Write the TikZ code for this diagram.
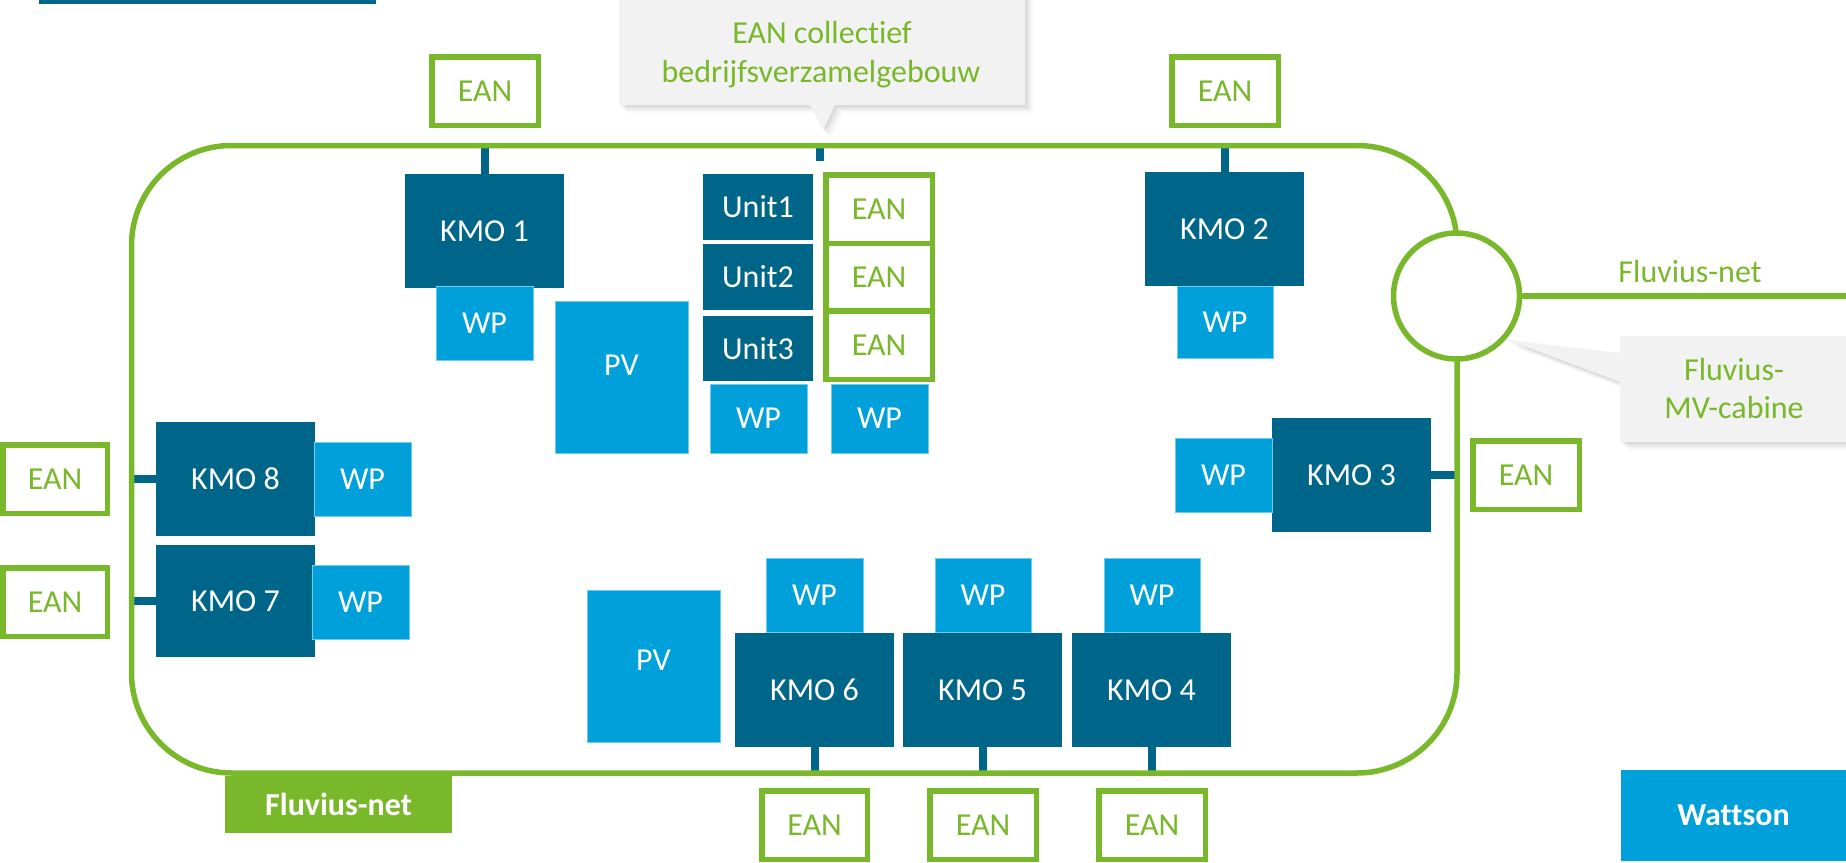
\documentclass[tikz,border=0pt]{standalone}
\usepackage{fontspec}
\setmainfont{Carlito}[Ligatures=NoCommon]
\definecolor{dkblue}{HTML}{006689}
\definecolor{ltblue}{HTML}{00A1DA}
\definecolor{fgreen}{HTML}{78B82A}
\definecolor{callgray}{HTML}{F2F2F2}
\pgfdeclarelayer{bg}
\pgfsetlayers{bg,main}
\tikzset{
  basebox/.style={inner sep=0pt, outer sep=0pt, font=\fontsize{16}{19.5}\selectfont},
  kmo/.style={basebox, fill=dkblue, text=white},
  wp/.style={basebox, fill=ltblue, text=white, draw=ltblue!55!white, line width=0.4pt},
  pvA/.style={wp, text depth=12pt},
  pvB/.style={wp, text depth=6pt},
  ean/.style={basebox, fill=white, draw=fgreen, line width=2.75pt, text=fgreen},
  tag/.style={basebox, text=white, font=\fontsize{16}{19.5}\selectfont\bfseries},
  link/.style={draw=dkblue, line width=4pt},
  netline/.style={draw=fgreen, line width=2.75pt},
  lbl/.style={inner sep=0pt, outer sep=0pt, text=fgreen, font=\fontsize{16}{19.5}\selectfont},
}
\newcommand\RB[6]{\node[#2, minimum width={(#5-#3)*0.5pt}, minimum height={(#6-#4)*0.5pt}] (#1) at ({(#3+#5)/2},{(#4+#6)/2})}
\newcommand\EB[6]{\node[#2, minimum width={(#5-#3-5.5)*0.5pt}, minimum height={(#6-#4-5.5)*0.5pt}] (#1) at ({(#3+#5)/2},{(#4+#6)/2})}
\begin{document}
\begin{tikzpicture}[x=0.5pt,y=-0.5pt]
\clip (0,0) rectangle (1846,862);
% top-left bar
\fill[dkblue] (39,-5) rectangle (376,3.5);

% callout shadows
\foreach \o/\a in {8/0.025,6/0.035,4/0.045,2/0.055}{
  \begin{scope}[shift={(\o,\o)}]
    \fill[black,opacity=\a] (619,-20) -- (1025,-20) -- (1025,105) -- (835,105) -- (823,130) -- (810,105) -- (619,105) -- cycle;
    \fill[black,opacity=\a] (1508,340) -- (1620,353) -- (1620,336) -- (1870,336) -- (1870,442) -- (1620,442) -- (1620,382) -- cycle;
  \end{scope}
}
\fill[callgray] (619,-20) -- (1025,-20) -- (1025,105) -- (835,105) -- (823,130) -- (810,105) -- (619,105) -- cycle;
\fill[callgray] (1508,340) -- (1620,353) -- (1620,336) -- (1870,336) -- (1870,442) -- (1620,442) -- (1620,382) -- cycle;
\node[lbl, anchor=base] (ct1) at (822,43) {EAN collectief};
\node[lbl, anchor=base] (ct2) at (821,82) {bedrijfsverzamelgebouw};
\node[lbl, anchor=base] (cr1) at (1734,380) {Fluvius-};
\node[lbl, anchor=base] (cr2) at (1734,418) {MV-cabine};

% network frame
\node[netline, rounded corners=50pt, minimum width=662.75pt, minimum height=313.75pt, inner sep=0pt, outer sep=0pt] (frame) at (794.25,459.25) {};
\node[circle, draw=fgreen, line width=2.75pt, fill=white, minimum size=63pt, inner sep=0pt, outer sep=0pt] (cab) at (1456.5,296) {};
\coordinate (fnetend) at (1850,296);
\draw[netline] (cab.east) -- (cab.east -| fnetend);
\node[lbl, anchor=base] (fnettxt) at (1690,282) {Fluvius-net};

% KMO 1
\RB{k1}{kmo}{405}{174}{564}{288} {KMO 1};
\RB{wp1}{wp}{436}{286}{533}{360} {WP};
\EB{e1}{ean}{429}{54}{541}{128} {EAN};
% PV 1
\RB{pv1}{pvA}{555}{301}{688}{453} {PV};
% Units
\RB{u1}{kmo}{703}{174}{813}{240} {Unit1};
\RB{u2}{kmo}{703}{244}{813}{310} {Unit2};
\RB{u3}{kmo}{703}{316}{813}{381} {Unit3};
\EB{eu1}{ean}{823}{172}{935}{246.25} {EAN};
\EB{eu2}{ean}{823}{240.75}{935}{313.75} {EAN};
\EB{eu3}{ean}{823}{308.25}{935}{382} {EAN};
\RB{wpu}{wp}{710}{384}{807}{453} {WP};
\RB{wpe}{wp}{831}{384}{928}{453} {WP};
\coordinate (stub) at (820,161);
% KMO 2
\RB{k2}{kmo}{1145}{172}{1304}{286} {KMO 2};
\RB{wp2}{wp}{1177}{286}{1273}{358} {WP};
\EB{e2}{ean}{1169}{54}{1281}{128} {EAN};
% KMO 3
\RB{k3}{kmo}{1272}{418}{1431}{532} {KMO 3};
\RB{wp3}{wp}{1175}{438}{1272}{512} {WP};
\EB{e3}{ean}{1470}{438}{1582}{512} {EAN};
% KMO 8, 7
\RB{k8}{kmo}{156}{422}{315}{536} {KMO 8};
\RB{wp8}{wp}{314}{442}{411}{516} {WP};
\EB{e8}{ean}{0}{442}{110}{516} {EAN};
\RB{k7}{kmo}{156}{545}{315}{657} {KMO 7};
\RB{wp7}{wp}{312}{565}{409}{639} {WP};
\EB{e7}{ean}{0}{565}{110}{639} {EAN};
% PV 2
\RB{pv2}{pvB}{587}{590}{720}{742} {PV};
% KMO 6, 5, 4
\RB{k6}{kmo}{735}{633}{894}{747} {KMO 6};
\RB{wp6}{wp}{766}{558}{863}{632} {WP};
\EB{e6}{ean}{759}{788}{870}{862} {EAN};
\RB{k5}{kmo}{903}{633}{1062}{747} {KMO 5};
\RB{wp5}{wp}{935}{558}{1031}{632} {WP};
\EB{e5}{ean}{927}{788}{1039}{862} {EAN};
\RB{k4}{kmo}{1072}{633}{1231}{747} {KMO 4};
\RB{wp4}{wp}{1104}{558}{1200}{632} {WP};
\EB{e4}{ean}{1096}{788}{1208}{862} {EAN};

% legend tags
\RB{fnl}{tag, fill=fgreen}{225}{776}{452}{833} {Fluvius-net};
\RB{wat}{tag, fill=ltblue}{1621}{770}{1846}{861} {Wattson};

% connectors
\begin{pgfonlayer}{bg}
\draw[link] (k1.north) -- (k1.north |- frame.north);
\draw[link] (k2.north) -- (k2.north |- frame.north);
\draw[link] (stub) -- (stub |- frame.north);
\draw[link] (k3.east) -- (k3.east -| frame.east);
\draw[link] (k8.west) -- (k8.west -| frame.west);
\draw[link] (k7.west) -- (k7.west -| frame.west);
\draw[link] (k6.south) -- (k6.south |- frame.south);
\draw[link] (k5.south) -- (k5.south |- frame.south);
\draw[link] (k4.south) -- (k4.south |- frame.south);
\end{pgfonlayer}
\end{tikzpicture}
\end{document}
